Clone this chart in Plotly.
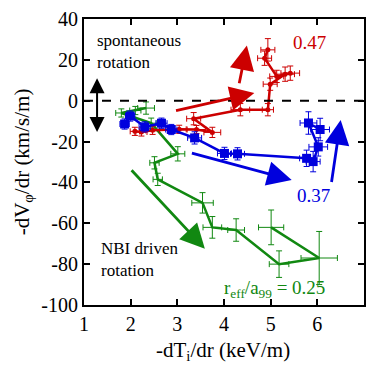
import plotly.graph_objects as go

# red series (r_eff/a99 = 0.47)
x_red = [2.09, 2.23, 2.47, 3.04, 3.41, 3.75, 3.35, 4.35, 4.94, 4.99, 5.31, 5.42, 5.13, 4.87, 4.94]
y_red = [-15.0, -15.3, -14.5, -14.0, -14.1, -15.5, -8.8, -4.4, -4.4, 8.1, 13.0, 13.5, 11.9, 20.8, 24.9]
xerr_red = [0.10, 0.12, 0.15, 0.15, 0.20, 0.18, 0.15, 0.20, 0.12, 0.15, 0.20, 0.20, 0.15, 0.15, 0.15]
yerr_red = [2.0, 2.0, 2.0, 2.0, 2.0, 2.5, 3.0, 3.0, 3.0, 3.0, 3.5, 3.5, 3.0, 3.5, 5.5]

# blue series (0.37)
x_blue = [1.87, 1.99, 2.30, 2.66, 2.87, 3.37, 4.01, 4.29, 5.77, 5.91, 6.02, 5.81, 6.06]
y_blue = [-11.4, -7.5, -12.8, -11.0, -14.1, -18.2, -25.8, -26.0, -28.2, -29.8, -22.6, -10.9, -14.1]
xerr_blue = [0.10, 0.10, 0.12, 0.12, 0.12, 0.15, 0.15, 0.15, 0.15, 0.15, 0.20, 0.18, 0.20]
yerr_blue = [2.5, 2.5, 2.5, 2.5, 2.5, 3.0, 3.0, 3.0, 4.0, 5.0, 4.5, 5.5, 5.5]

# green series (0.25)
x_green = [2.33, 2.10, 1.80, 2.44, 3.01, 2.51, 2.58, 3.54, 3.75, 4.26, 5.18, 6.04, 5.01]
y_green = [-3.6, -4.8, -6.0, -11.0, -26.0, -30.4, -38.5, -50.0, -62.0, -63.3, -80.0, -77.0, -62.0]
xerr_green = [0.18, 0.12, 0.12, 0.12, 0.15, 0.10, 0.10, 0.23, 0.20, 0.18, 0.21, 0.39, 0.27]
yerr_green = [3.0, 2.0, 2.0, 2.5, 3.5, 3.0, 3.0, 5.0, 5.3, 5.5, 6.5, 13.0, 8.5]

x_ticks = [1, 2, 3, 4, 5, 6, 7]
y_ticks = [40, 20, 0, -20, -40, -60, -80, -100]

RED = "#cc0000"
BLUE = "#0000dd"
GREEN = "#118811"
FONT = "Liberation Serif"

fig = go.Figure()

def add_series(x, y, ex, ey, color, msym, msize):
    fig.add_trace(go.Scatter(
        x=x, y=y, mode="lines+markers",
        line=dict(color=color, width=2.5),
        marker=dict(color=color, symbol=msym, size=msize),
        error_x=dict(type="data", array=ex, color=color, thickness=1, width=3),
        error_y=dict(type="data", array=ey, color=color, thickness=1, width=3),
        showlegend=False,
    ))

add_series(x_green, y_green, xerr_green, yerr_green, GREEN, "line-ew", 1)
add_series(x_red, y_red, xerr_red, yerr_red, RED, "circle", 5)
add_series(x_blue, y_blue, xerr_blue, yerr_blue, BLUE, "square", 9)

fig.add_shape(type="line", x0=1, x1=7, y0=0, y1=0, xref="x", yref="y",
              line=dict(color="black", width=2, dash="dash"))

arrows = [
    # (tail_x, tail_y, tip_x, tip_y, color)
    (2.94, -5.0, 4.65, 3.8, RED),
    (4.32, 7.8, 4.49, 27.0, RED),
    (3.28, -25.5, 5.45, -38.8, BLUE),
    (6.30, -40.5, 6.50, -9.5, BLUE),
    (1.99, -33.3, 3.59, -72.5, GREEN),
]
for tx, ty, hx, hy, c in arrows:
    fig.add_annotation(x=hx, y=hy, ax=tx, ay=ty, xref="x", yref="y", axref="x", ayref="y",
                       showarrow=True, arrowhead=2, arrowsize=1.75, arrowwidth=2.8,
                       arrowcolor=c, text="")

fig.add_annotation(x=1.28, y=11, ax=1.28, ay=-16, xref="x", yref="y", axref="x", ayref="y",
                   showarrow=True, arrowhead=2, startarrowhead=2, arrowside="end+start",
                   arrowsize=1.5, startarrowsize=1.5, arrowwidth=2, arrowcolor="black", text="")

def txt(x, y, s, color, size, xanchor="left"):
    fig.add_annotation(x=x, y=y, xref="x", yref="y", text=s, showarrow=False,
                       xanchor=xanchor, yanchor="middle", align="left",
                       font=dict(family=FONT, size=size, color=color))

txt(1.24, 24.0, "spontaneous<br>rotation", "black", 17)
txt(1.33, -77.6, "NBI driven<br>rotation", "black", 17)
txt(5.83, 28.3, "0.47", RED, 19, "center")
txt(5.91, -46.3, "0.37", BLUE, 19, "center")
txt(5.08, -92.0, "r<sub>eff</sub>/a<sub>99</sub> = 0.25", GREEN, 19, "center")

# x-axis title placed as paper annotation
fig.add_annotation(x=0.495, y=-0.11, xref="paper", yref="paper", showarrow=False,
                   text="-dT<sub>i</sub>/dr (keV/m)", xanchor="center", yanchor="top",
                   font=dict(family=FONT, size=21, color="black"))

axis_common = dict(
    showline=True, linecolor="black", linewidth=2, mirror="ticks",
    ticks="inside", ticklen=6, tickwidth=2, tickcolor="black",
    showgrid=False, zeroline=False,
    tickfont=dict(family=FONT, size=20, color="black"),
)
fig.update_xaxes(range=[1, 7], tickvals=x_ticks, ticktext=[str(v) for v in x_ticks],
                 **axis_common)
fig.update_yaxes(range=[-100, 40], tickvals=y_ticks, ticktext=[str(v) for v in y_ticks],
                 title=dict(text="-dV<sub>φ</sub>/dr (km/s/m)", font=dict(family=FONT, size=21, color="black"), standoff=6),
                 **axis_common)

fig.update_layout(
    width=368, height=365,
    margin=dict(l=84, r=2, t=19, b=60),
    plot_bgcolor="white", paper_bgcolor="white",
    font=dict(family=FONT),
)

fig.write_html("out.html")
